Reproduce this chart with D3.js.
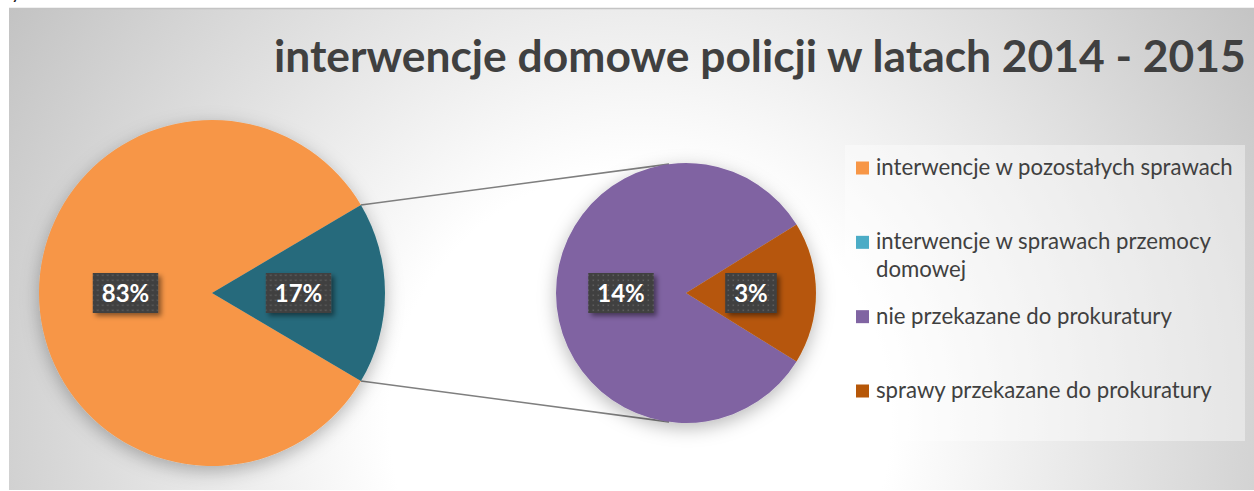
<!DOCTYPE html>
<html><head><meta charset="utf-8">
<script src="https://cdn.jsdelivr.net/npm/d3@7/dist/d3.min.js"></script>
<style>html,body{margin:0;padding:0;background:#fff;}svg{display:block;}</style>
</head><body>
<svg id="chart" width="1254" height="491"></svg>
<script>
const titleText = "interwencje domowe policji w latach 2014 - 2015";
const mainCategories = ["interwencje w pozostałych sprawach", "interwencje w sprawach przemocy domowej"];
const mainValues = [83, 17];
const mainLabels = ["83%", "17%"];
const subCategories = ["nie przekazane do prokuratury", "sprawy przekazane do prokuratury"];
const subValues = [14, 3];
const subLabels = ["14%", "3%"];
const sliceColors = ["#F79646", "#256B7B", "#8064A2", "#B65708"];
const legendColors = ["#F79646", "#4BACC6", "#8064A2", "#B65708"];

const svg = d3.select("#chart");
const W = 1254, H = 491;
const FONT = "Lato, 'Open Sans', sans-serif";
const defs = svg.append("defs");

const bg = defs.append("radialGradient").attr("id","bg").attr("gradientUnits","userSpaceOnUse")
  .attr("cx",640).attr("cy",420).attr("r",760);
bg.append("stop").attr("offset","0").attr("stop-color","#ffffff");
bg.append("stop").attr("offset","0.33").attr("stop-color","#ffffff");
bg.append("stop").attr("offset","1").attr("stop-color","#c2c2c2");

const sh = defs.append("filter").attr("id","pieShadow").attr("x","-30%").attr("y","-30%").attr("width","160%").attr("height","160%");
sh.append("feDropShadow").attr("dx",0).attr("dy",5).attr("stdDeviation",9).attr("flood-color","#000").attr("flood-opacity",0.28);

const lsh = defs.append("filter").attr("id","lblShadow").attr("x","-30%").attr("y","-30%").attr("width","160%").attr("height","160%");
lsh.append("feDropShadow").attr("dx",3).attr("dy",3).attr("stdDeviation",2.5).attr("flood-color","#000").attr("flood-opacity",0.45);

const pat = defs.append("pattern").attr("id","dots").attr("patternUnits","userSpaceOnUse").attr("width",5).attr("height",5);
pat.append("rect").attr("width",5).attr("height",5).attr("fill","#404040");
pat.append("rect").attr("x",1.5).attr("y",1.5).attr("width",1.6).attr("height",1.6).attr("fill","#5c5c5c");

// page background strip + fragment
svg.append("text").attr("x",11).attr("y",-1).attr("font-family",FONT).attr("font-size",20).attr("fill","#222").text("y");
svg.append("rect").attr("x",9).attr("y",9).attr("width",W-9).attr("height",481).attr("fill","url(#bg)");
svg.append("line").attr("x1",9).attr("x2",W).attr("y1",8.5).attr("y2",8.5).attr("stroke","#c4c4c4").attr("stroke-width",1.5);

// title
const title = svg.append("text").attr("x",274).attr("y",72).attr("font-family",FONT).attr("font-weight","bold")
  .attr("font-size",44).attr("fill","#404040").text(titleText);
const tw = title.node().getComputedTextLength();
title.attr("font-size", 44 * 972 / tw);

// pies
const main = {cx:212, cy:293, r:173};
const sub = {cx:686, cy:293, r:130};
const mainTotal = d3.sum(mainValues);
const subTotal = d3.sum(subValues);
const mainHalf = Math.PI * mainValues[1] / mainTotal;
const subHalf = Math.PI * subValues[1] / subTotal;

const pieMain = d3.pie().sort(null).startAngle(Math.PI/2 + mainHalf).endAngle(Math.PI/2 + mainHalf + 2*Math.PI);
const pieSub = d3.pie().sort(null).startAngle(Math.PI/2 + subHalf).endAngle(Math.PI/2 + subHalf + 2*Math.PI);
const arcsMain = pieMain(mainValues);
const arcsSub = pieSub(subValues);

function pt(c, a, r){ return [c.cx + r*Math.sin(a), c.cy - r*Math.cos(a)]; }

// connector lines
const teal = arcsMain[1];
const topOff = -Math.asin(17/sub.r);
const conn = [
  [pt(main, teal.startAngle + 2*Math.PI - 2*Math.PI, main.r), pt(sub, topOff, sub.r)],
  [pt(main, teal.endAngle, main.r), pt(sub, Math.PI - topOff, sub.r)]
];
// teal.startAngle is the upper edge (angle < pi/2 after wrap)
const upA = Math.PI/2 - mainHalf, loA = Math.PI/2 + mainHalf;
const lines = [[pt(main, upA, main.r), pt(sub, topOff, sub.r)], [pt(main, loA, main.r), pt(sub, Math.PI - topOff, sub.r)]];
svg.selectAll("line.conn").data(lines).join("line").attr("class","conn")
  .attr("x1",d=>d[0][0]).attr("y1",d=>d[0][1]).attr("x2",d=>d[1][0]).attr("y2",d=>d[1][1])
  .attr("stroke","#7f7f7f").attr("stroke-width",1.6);

function drawPie(c, arcs, colors, labels){
  const g = svg.append("g").attr("transform",`translate(${c.cx},${c.cy})`);
  const arc = d3.arc().innerRadius(0).outerRadius(c.r);
  const gp = g.append("g").attr("filter","url(#pieShadow)");
  gp.selectAll("path").data(arcs).join("path").attr("d",arc).attr("fill",(d,i)=>colors[i]);
  const lab = g.selectAll("g.lab").data(arcs).join("g").attr("class","lab")
    .attr("transform",d=>`translate(${arc.centroid(d)})`);
  lab.each(function(d,i){
    const s = d3.select(this);
    const rect = s.append("rect").attr("fill","url(#dots)").attr("filter","url(#lblShadow)");
    const t = s.append("text").attr("text-anchor","middle").attr("dy","0.36em")
      .attr("font-family",FONT).attr("font-weight","bold").attr("font-size",24).attr("fill","#fff").text(labels[i]);
    const w = t.node().getComputedTextLength() + 18;
    rect.attr("x",-w/2).attr("y",-20).attr("width",w).attr("height",40);
  });
}
drawPie(main, arcsMain, sliceColors.slice(0,2), mainLabels);
drawPie(sub, arcsSub, sliceColors.slice(2,4), subLabels);

// legend
svg.append("rect").attr("x",845).attr("y",145).attr("width",400).attr("height",296).attr("fill","#ffffff").attr("opacity",0.4);
const legendCats = mainCategories.concat(subCategories);
const ly = d3.scalePoint().domain(legendCats).range([168, 391]);
const lg = svg.append("g");
// measure font
const probe = lg.append("text").attr("font-family",FONT).attr("font-size",20).text(legendCats[0]);
const lfs = 20 * 357 / probe.node().getComputedTextLength();
probe.remove();
legendCats.forEach((c,i)=>{
  const y = ly(c);
  lg.append("rect").attr("x",856).attr("y",y-6.5).attr("width",13).attr("height",13).attr("fill",legendColors[i]);
  const t = lg.append("text").attr("x",876).attr("y",y+7).attr("font-family",FONT).attr("font-size",lfs).attr("fill","#404040");
  const words = c.split(" ");
  let line = [], lineNo = 0;
  let ts = t.append("tspan").attr("x",876).attr("dy",0);
  words.forEach(wd=>{
    line.push(wd);
    ts.text(line.join(" "));
    if (ts.node().getComputedTextLength() > 362 && line.length > 1){
      line.pop(); ts.text(line.join(" "));
      line = [wd]; lineNo++;
      ts = t.append("tspan").attr("x",876).attr("dy",28).text(wd);
    }
  });
});
</script>
</body></html>
